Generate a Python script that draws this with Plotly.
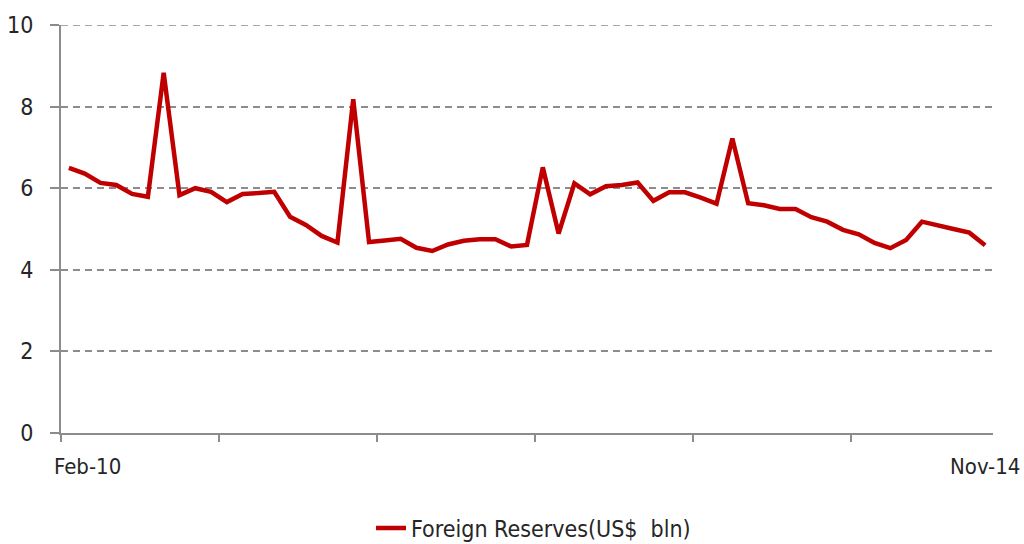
import plotly.graph_objects as go

# Monthly foreign reserves, US$ bln
reserves = [6.50, 6.36, 6.13, 6.08, 5.86, 5.79, 8.83, 5.83, 6.00, 5.91,
            5.66, 5.86, 5.88, 5.91, 5.30, 5.10, 4.83, 4.67, 8.18, 4.68,
            4.72, 4.76, 4.54, 4.46, 4.62, 4.71, 4.75, 4.75, 4.57, 4.61,
            6.51, 4.89, 6.12, 5.85, 6.05, 6.08, 6.14, 5.69, 5.90, 5.90,
            5.77, 5.62, 7.22, 5.63, 5.58, 5.49, 5.49, 5.29, 5.18, 4.98,
            4.87, 4.66, 4.53, 4.73, 5.18, 5.10, 5.00, 4.91, 4.60]
period_index = list(range(len(reserves)))
first_label = "Feb-10"
last_label = "Nov-14"
series_name = "Foreign Reserves(US$  bln)"
y_ticks = [0, 2, 4, 6, 8, 10]

FONT = "DejaVu Sans Condensed, Roboto, sans-serif"
TXT = "#262626"
GRAY = "#8c8c8c"

fig = go.Figure()
fig.add_trace(go.Scatter(
    x=period_index, y=reserves, mode="lines", name=series_name,
    line=dict(color="#C00000", width=4.5),
))

n = len(reserves)
fig.update_layout(
    width=1024, height=544,
    margin=dict(l=61, r=31, t=25, b=111, autoexpand=False),
    paper_bgcolor="white", plot_bgcolor="white",
    font=dict(family=FONT, color=TXT, size=22),
    showlegend=True,
    legend=dict(orientation="h", x=0.507, xanchor="center",
                y=-95.0 / 408.0, yanchor="middle",
                font=dict(size=23, family=FONT, color=TXT)),
    xaxis=dict(
        range=[-0.5, n - 0.5], automargin=False,
        tickvals=[i - 0.5 for i in range(0, n, 10)],
        ticktext=["" for _ in range(0, n, 10)],
        ticks="outside", ticklen=7, tickcolor=GRAY, tickwidth=1.5,
        showline=True, linecolor=GRAY, linewidth=2,
        showgrid=False, zeroline=False,
    ),
    yaxis=dict(
        range=[0, 10], tickvals=y_ticks, automargin=False,
        ticks="outside", ticklen=9, tickcolor=GRAY, tickwidth=1.5,
        showline=True, linecolor=GRAY, linewidth=2,
        showgrid=True, gridcolor=GRAY, gridwidth=1.5, griddash="7px,5px",
        zeroline=False, ticklabelstandoff=12,
        tickfont=dict(size=23, family=FONT, color=TXT),
    ),
    shapes=[dict(type="line", xref="paper", x0=0, x1=1, yref="y", y0=10, y1=10,
                 line=dict(color=GRAY, width=1.5, dash="7px,5px"))],
    annotations=[
        dict(text=first_label, xref="paper", x=0, xanchor="left", xshift=-9,
             yref="paper", y=0, yanchor="top", yshift=-19, showarrow=False,
             font=dict(size=22, family=FONT, color=TXT)),
        dict(text=last_label, xref="x", x=n - 1, xanchor="center",
             yref="paper", y=0, yanchor="top", yshift=-19, showarrow=False,
             font=dict(size=22, family=FONT, color=TXT)),
    ],
)

post = (
    "document.documentElement.style.margin='0';"
    "document.body.style.margin='0';"
    "document.body.style.overflow='hidden';"
    "var d=document.getElementById('{plot_id}');"
    "d.style.position='fixed';d.style.left='0px';d.style.top='0px';"
)
fig.write_html("out.html", post_script=post,
               config={"displayModeBar": False, "responsive": False})
